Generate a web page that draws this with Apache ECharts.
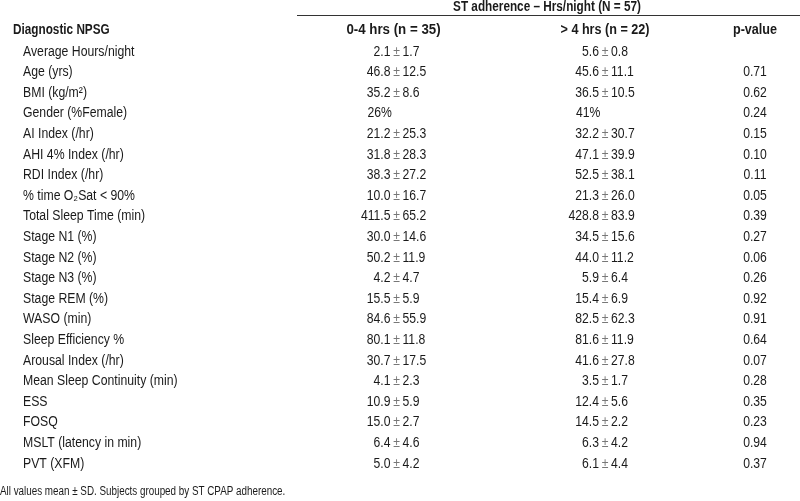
<!DOCTYPE html>
<html>
<head>
<meta charset="utf-8">
<script src="https://cdn.jsdelivr.net/npm/echarts@6/dist/echarts.min.js"></script>
<style>
html,body{margin:0;padding:0;background:#fff;}
#chart{width:800px;height:501px;}
</style>
</head>
<body>
<div id="chart"></div>
<script>
const spanTitle = "ST adherence – Hrs/night (N = 57)";
const headers = ["Diagnostic NPSG", "0-4 hrs (n = 35)", "> 4 hrs (n = 22)", "p-value"];
const rowLabels = [
  "Average Hours/night", "Age (yrs)", "BMI (kg/m²)", "Gender (%Female)", "AI Index (/hr)",
  "AHI 4% Index (/hr)", "RDI Index (/hr)", "% time O₂Sat < 90%", "Total Sleep Time (min)",
  "Stage N1 (%)", "Stage N2 (%)", "Stage N3 (%)", "Stage REM (%)", "WASO (min)",
  "Sleep Efficiency %", "Arousal Index (/hr)", "Mean Sleep Continuity (min)", "ESS", "FOSQ",
  "MSLT (latency in min)", "PVT (XFM)"
];
const group1 = [
  "2.1 ± 1.7", "46.8 ± 12.5", "35.2 ± 8.6", "26%", "21.2 ± 25.3", "31.8 ± 28.3", "38.3 ± 27.2",
  "10.0 ± 16.7", "411.5 ± 65.2", "30.0 ± 14.6", "50.2 ± 11.9", "4.2 ± 4.7", "15.5 ± 5.9",
  "84.6 ± 55.9", "80.1 ± 11.8", "30.7 ± 17.5", "4.1 ± 2.3", "10.9 ± 5.9", "15.0 ± 2.7",
  "6.4 ± 4.6", "5.0 ± 4.2"
];
const group2 = [
  "5.6 ± 0.8", "45.6 ± 11.1", "36.5 ± 10.5", "41%", "32.2 ± 30.7", "47.1 ± 39.9", "52.5 ± 38.1",
  "21.3 ± 26.0", "428.8 ± 83.9", "34.5 ± 15.6", "44.0 ± 11.2", "5.9 ± 6.4", "15.4 ± 6.9",
  "82.5 ± 62.3", "81.6 ± 11.9", "41.6 ± 27.8", "3.5 ± 1.7", "12.4 ± 5.6", "14.5 ± 2.2",
  "6.3 ± 4.2", "6.1 ± 4.4"
];
const pValues = [
  "", "0.71", "0.62", "0.24", "0.15", "0.10", "0.11", "0.05", "0.39", "0.27", "0.06", "0.26",
  "0.92", "0.91", "0.64", "0.07", "0.28", "0.35", "0.23", "0.94", "0.37"
];
const footnote = "All values mean ± SD. Subjects grouped by ST CPAP adherence.";

const FONT = "'Liberation Sans', Arial, sans-serif";
const FS = 14;
const SX_LABEL = 0.875, SX_VAL = 0.87;
const TXT = '#1a1a1a';
const LABEL_X = 23, G1_X = 396.5, G2_X = 605, P_X = 755;

function txt(x, y, text, align, sx, extra) {
  return {
    type: 'text', x: x, y: y, scaleX: sx,
    style: Object.assign({ text: text, x: 0, y: 0, fontFamily: FONT, fontSize: FS, fill: TXT, align: align, verticalAlign: 'middle' }, extra || {})
  };
}

function cell(api, i, x, str) {
  const out = [];
  if (!str) return out;
  const p = api.coord([x, i]);
  const parts = str.split(' ± ');
  if (parts.length === 2) {
    out.push(txt(p[0] - 6, p[1], parts[0], 'right', SX_VAL));
    out.push(txt(p[0], p[1], '±', 'center', SX_VAL, { fill: '#777' }));
    out.push(txt(p[0] + 6, p[1], parts[1], 'left', SX_VAL));
  } else {
    out.push(txt(p[0] - 29, p[1], str, 'left', SX_VAL));
  }
  return out;
}

function gtext(x, y, text, align, bold, sx, size) {
  return {
    type: 'text', x: x, y: y, scaleX: sx,
    style: { text: text, x: 0, y: 0, fontFamily: FONT, fontSize: size || FS, fontWeight: bold ? 'bold' : 'normal', fill: TXT, align: align, verticalAlign: 'middle' }
  };
}

const chart = echarts.init(document.getElementById('chart'), null, { renderer: 'canvas' });
chart.setOption({
  animation: false,
  backgroundColor: '#fff',
  grid: { left: 0, right: 0, top: 41.5, bottom: 27 },
  xAxis: { type: 'value', min: 0, max: 800, show: false },
  yAxis: { type: 'category', data: rowLabels, inverse: true, show: false },
  graphic: [
    { type: 'line', shape: { x1: 297, y1: 15.5, x2: 800, y2: 15.5 }, style: { stroke: '#333', lineWidth: 1 } },
    gtext(547, 7, spanTitle, 'center', true, 0.84),
    gtext(13, 30, headers[0], 'left', true, 0.84),
    gtext(393.5, 30, headers[1], 'center', true, 0.95),
    gtext(605, 30, headers[2], 'center', true, 0.9),
    gtext(755, 30, headers[3], 'center', true, 0.9),
    gtext(0, 492, footnote, 'left', false, 0.82, 12)
  ],
  series: [{
    type: 'custom',
    data: rowLabels.map((r, i) => [i]),
    encode: { y: 0 },
    renderItem: function (params, api) {
      const i = api.value(0);
      const lp = api.coord([LABEL_X, i]);
      const children = [txt(lp[0], lp[1], rowLabels[i], 'left', SX_LABEL)]
        .concat(cell(api, i, G1_X, group1[i]), cell(api, i, G2_X, group2[i]));
      if (pValues[i]) {
        const pp = api.coord([P_X, i]);
        children.push(txt(pp[0], pp[1], pValues[i], 'center', SX_VAL));
      }
      return { type: 'group', children: children };
    }
  }]
});
</script>
</body>
</html>
